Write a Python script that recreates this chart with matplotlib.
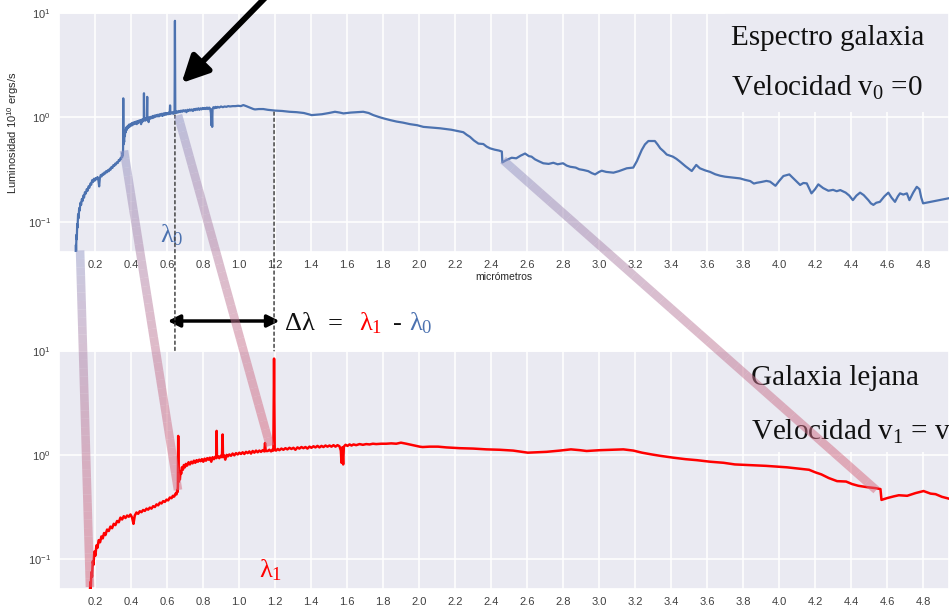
import numpy as np
import matplotlib
matplotlib.use("Agg")
import matplotlib.pyplot as plt
import seaborn as sns
from matplotlib.collections import LineCollection
from matplotlib.patches import Rectangle, ConnectionPatch
from matplotlib.colors import to_rgba

sns.set_theme(style="darkgrid")
plt.rcParams["font.family"] = ["Liberation Sans", "DejaVu Sans"]
plt.rcParams["mathtext.fontset"] = "custom"
plt.rcParams["mathtext.rm"] = "Liberation Serif"
plt.rcParams["mathtext.it"] = "Liberation Serif:italic"
plt.rcParams["mathtext.bf"] = "Liberation Serif:bold"

# ---------------- data (rest-frame spectrum, micrometres / 1e10 erg/s) -------------
wl_uv_opt = [0.092, 0.094, 0.095, 0.097, 0.099, 0.101, 0.103, 0.106, 0.109, 0.112,
             0.115, 0.119, 0.123, 0.127, 0.131, 0.135, 0.139, 0.144, 0.149, 0.154,
             0.159, 0.164, 0.169, 0.174, 0.179, 0.184, 0.189, 0.194, 0.199, 0.204,
             0.209, 0.214, 0.219, 0.223, 0.227, 0.232, 0.237, 0.242, 0.247, 0.252,
             0.257, 0.262, 0.267, 0.272, 0.277, 0.282, 0.287, 0.292, 0.297, 0.302,
             0.307, 0.312, 0.317, 0.322, 0.327, 0.332, 0.337, 0.341, 0.345, 0.349,
             0.352, 0.354, 0.355, 0.356, 0.357, 0.358, 0.360, 0.362, 0.364, 0.366,
             0.368, 0.371, 0.374, 0.377, 0.380, 0.384, 0.388, 0.392, 0.396, 0.400,
             0.404, 0.408, 0.412, 0.416, 0.420, 0.424, 0.428, 0.432, 0.436, 0.440,
             0.444, 0.448, 0.452, 0.456, 0.460, 0.464, 0.468, 0.471, 0.472, 0.473,
             0.476, 0.480, 0.484, 0.488, 0.490, 0.491, 0.494, 0.498, 0.502, 0.506,
             0.510, 0.515, 0.520, 0.525, 0.530, 0.535, 0.540, 0.545, 0.550, 0.555,
             0.560, 0.565, 0.570, 0.575, 0.580, 0.585, 0.590, 0.595, 0.600, 0.605,
             0.610, 0.615, 0.617, 0.619, 0.625, 0.630, 0.635, 0.640, 0.642, 0.644,
             0.646, 0.650, 0.655, 0.660, 0.666, 0.672, 0.678, 0.684, 0.690, 0.696,
             0.702, 0.708, 0.714, 0.720, 0.726, 0.732, 0.738, 0.744, 0.750, 0.756,
             0.762, 0.768, 0.774, 0.780, 0.786, 0.792, 0.798, 0.804, 0.810, 0.816,
             0.822, 0.828, 0.834, 0.840, 0.844, 0.846, 0.848, 0.851, 0.853, 0.858,
             0.864, 0.870, 0.876, 0.882, 0.890, 0.900, 0.910, 0.920, 0.930, 0.940,
             0.950, 0.965, 0.980, 0.995, 1.010]
lum_uv_opt = [0.045, 0.060, 0.052, 0.075, 0.068, 0.095, 0.088, 0.118, 0.108, 0.135,
              0.128, 0.152, 0.145, 0.165, 0.158, 0.178, 0.170, 0.192, 0.186, 0.205,
              0.198, 0.218, 0.212, 0.232, 0.226, 0.250, 0.240, 0.258, 0.248, 0.262,
              0.255, 0.268, 0.250, 0.218, 0.262, 0.280, 0.272, 0.288, 0.282, 0.296,
              0.290, 0.305, 0.298, 0.312, 0.305, 0.322, 0.316, 0.335, 0.328, 0.348,
              0.342, 0.360, 0.354, 0.372, 0.366, 0.390, 0.384, 0.405, 0.398, 0.425,
              0.418, 0.460, 0.440, 0.500, 1.520, 0.550, 0.620, 0.580, 0.700, 0.660,
              0.760, 0.720, 0.800, 0.760, 0.820, 0.790, 0.850, 0.810, 0.860, 0.830,
              0.880, 0.840, 0.890, 0.860, 0.900, 0.870, 0.910, 0.860, 0.920, 0.880,
              0.930, 0.900, 0.940, 0.860, 0.950, 0.910, 0.960, 0.930, 1.700, 0.950,
              0.970, 0.930, 0.980, 0.950, 1.570, 0.970, 0.990, 0.900, 1.000, 0.970,
              1.010, 0.980, 1.030, 0.990, 1.040, 1.010, 1.050, 1.020, 1.060, 1.020,
              1.070, 1.040, 1.080, 1.030, 1.090, 1.050, 1.100, 1.060, 1.100, 1.070,
              1.110, 1.080, 1.300, 1.090, 1.090, 1.120, 1.080, 1.130, 1.100, 8.400,
              1.120, 1.100, 1.140, 1.110, 1.150, 1.120, 1.160, 1.130, 1.170, 1.140,
              1.170, 1.120, 1.180, 1.150, 1.190, 1.160, 1.190, 1.150, 1.200, 1.170,
              1.210, 1.180, 1.220, 1.180, 1.220, 1.190, 1.230, 1.200, 1.230, 1.200,
              1.240, 1.200, 1.240, 1.210, 1.100, 0.840, 1.180, 0.810, 1.200, 1.250,
              1.220, 1.260, 1.230, 1.260, 1.240, 1.270, 1.250, 1.270, 1.260, 1.280,
              1.270, 1.280, 1.280, 1.290, 1.280]

wl_nir = [1.024, 1.040, 1.060, 1.080, 1.089, 1.110, 1.135, 1.160, 1.200, 1.240,
          1.280, 1.320, 1.360, 1.404, 1.430, 1.460, 1.500, 1.533, 1.560, 1.580,
          1.620, 1.660, 1.690, 1.720, 1.746, 1.775, 1.800, 1.840, 1.876, 1.910,
          1.950, 1.990, 2.024, 2.060, 2.117, 2.180, 2.246, 2.265, 2.283, 2.305,
          2.330, 2.357, 2.375, 2.394, 2.420, 2.445, 2.460]
lum_nir = [1.310, 1.280, 1.240, 1.200, 1.190, 1.200, 1.200, 1.180, 1.160, 1.150,
           1.130, 1.120, 1.100, 1.050, 1.060, 1.070, 1.100, 1.130, 1.110, 1.090,
           1.110, 1.120, 1.130, 1.100, 1.050, 1.010, 0.980, 0.940, 0.910, 0.890,
           0.860, 0.840, 0.810, 0.800, 0.785, 0.760, 0.720, 0.680, 0.650, 0.600,
           0.560, 0.555, 0.525, 0.505, 0.490, 0.480, 0.470]

wl_mir = [2.463, 2.480, 2.500, 2.515, 2.540, 2.565, 2.589, 2.610, 2.625, 2.644,
          2.665, 2.690, 2.720, 2.746, 2.770, 2.800, 2.820, 2.840, 2.870, 2.890,
          2.913, 2.940, 2.960, 2.978, 3.000, 3.015, 3.040, 3.080, 3.110, 3.154,
          3.190, 3.210, 3.237, 3.255, 3.274, 3.310, 3.325, 3.340, 3.360, 3.376,
          3.410, 3.430, 3.450, 3.480, 3.500, 3.515, 3.540, 3.560, 3.590, 3.617,
          3.645, 3.672, 3.700, 3.740, 3.783, 3.810, 3.840, 3.860, 3.876, 3.900,
          3.930, 3.950, 3.980, 4.000, 4.024, 4.057, 4.080, 4.100, 4.117, 4.135,
          4.154, 4.180, 4.200, 4.218, 4.245, 4.274, 4.300, 4.320, 4.340, 4.370,
          4.390, 4.410, 4.430, 4.450, 4.470, 4.496, 4.510, 4.524, 4.540, 4.560,
          4.585, 4.607, 4.625, 4.644, 4.660, 4.672, 4.690, 4.710, 4.724, 4.745,
          4.765, 4.780, 4.790, 4.800, 4.944, 5.000]
lum_mir = [0.370, 0.385, 0.400, 0.410, 0.405, 0.430, 0.450, 0.425, 0.420, 0.396,
           0.380, 0.363, 0.358, 0.367, 0.355, 0.363, 0.345, 0.336, 0.330, 0.318,
           0.313, 0.305, 0.292, 0.284, 0.300, 0.308, 0.300, 0.295, 0.305, 0.325,
           0.330, 0.380, 0.486, 0.550, 0.593, 0.593, 0.550, 0.505, 0.470, 0.440,
           0.420, 0.400, 0.376, 0.340, 0.320, 0.306, 0.350, 0.325, 0.310, 0.300,
           0.285, 0.276, 0.270, 0.265, 0.260, 0.252, 0.245, 0.232, 0.236, 0.240,
           0.246, 0.242, 0.221, 0.245, 0.274, 0.284, 0.260, 0.240, 0.225, 0.235,
           0.233, 0.187, 0.205, 0.228, 0.210, 0.198, 0.202, 0.196, 0.201, 0.190,
           0.178, 0.161, 0.178, 0.190, 0.180, 0.161, 0.150, 0.145, 0.152, 0.155,
           0.175, 0.190, 0.170, 0.155, 0.175, 0.187, 0.182, 0.187, 0.161, 0.190,
           0.216, 0.205, 0.170, 0.150, 0.168, 0.170]

redshift_factor = 1.855          # lambda_1 / lambda_0
halpha_rest = 0.644              # marked line (lambda_0)

xticks = [0.2, 0.4, 0.6, 0.8, 1.0, 1.2, 1.4, 1.6, 1.8, 2.0, 2.2, 2.4,
          2.6, 2.8, 3.0, 3.2, 3.4, 3.6, 3.8, 4.0, 4.2, 4.4, 4.6, 4.8]

# features linked between the two spectra: (rest wl, lum top) -> (obs wl, lum bottom)
link_top = [(0.117, 0.053), (0.361, 0.48), (0.661, 1.05), (2.467, 0.39)]
link_bot = [(0.172, 0.054), (0.661, 0.46), (1.172, 1.22), (4.540, 0.46)]

wl_rest = np.array(wl_uv_opt + wl_nir + wl_mir)
lum = np.array(lum_uv_opt + lum_nir + lum_mir)
wl_obs = wl_rest * redshift_factor

# ---------------- figure ----------------
W, H = 949, 608
fig = plt.figure(figsize=(W / 100, H / 100), dpi=100)
ax1 = fig.add_axes([59 / W, 1 - 252 / H, 890 / W, (252 - 12.9) / H])
ax2 = fig.add_axes([59 / W, 1 - 589.3 / H, 890 / W, (589.3 - 350.7) / H])

BLUE = "#4C72B0"
for ax in (ax1, ax2):
    ax.set_yscale("log")
    ax.set_ylim(0.0513, 10)
    ax.set_xlim(0, 4.944)
    ax.set_xticks(xticks)
    ax.set_xticklabels([f"{t:.1f}" for t in xticks])
    ax.yaxis.set_minor_formatter(matplotlib.ticker.NullFormatter())
    ax.tick_params(axis="x", which="both", labelsize=8, colors=".25", length=0, pad=5.5)
    ax.tick_params(axis="y", which="both", labelsize=8, colors=".25", length=0, pad=6)
    ax.grid(True, which="major", color="white", lw=1.1)
    ax.grid(False, which="minor")

ax1.plot(wl_rest, lum, color=BLUE, lw=1.6, zorder=3)
ax2.plot(wl_obs, lum, color="red", lw=1.8, zorder=3)

ax1.set_xlabel("micrómetros", fontsize=7.5, color=".15", labelpad=1.5)
ax1.set_ylabel(r"Luminosidad $\mathdefault{10^{10}}$ ergs/s", fontsize=8, color=".15", labelpad=5)

# background boxes behind the big labels (hide grid)
ax1.add_patch(Rectangle((0.748, 0.586), 0.26, 0.42, transform=ax1.transAxes,
                        fc="#EAEAF2", ec="none", zorder=1))
ax2.add_patch(Rectangle((0.771, 0.575), 0.24, 0.43, transform=ax2.transAxes,
                        fc="#EAEAF2", ec="none", zorder=1))

serif = ["Liberation Serif", "DejaVu Serif"]
fig.text(731 / W, 1 - 38 / H, "Espectro galaxia", fontsize=21, family=serif,
         va="center", ha="left", color="#111111")
fig.text(731 / W, 1 - 88 / H, r"Velocidad $\mathrm{v}_0$ =0", fontsize=21, family=serif,
         va="center", ha="left", color="#111111")
fig.text(751 / W, 1 - 378 / H, "Galaxia lejana", fontsize=21, family=serif,
         va="center", ha="left", color="#111111")
fig.text(751 / W, 1 - 432 / H, r"Velocidad $\mathrm{v}_1$ = v", fontsize=21, family=serif,
         va="center", ha="left", color="#111111")

# lambda labels
fig.text(172 / W, 1 - 235 / H, r"$\mathrm{λ}_0$", fontsize=19, color=BLUE,
         ha="center", va="center")
fig.text(271 / W, 1 - 570 / H, r"$\mathrm{λ}_1$", fontsize=19, color="red",
         ha="center", va="center")

# delta lambda expression
yb = 1 - 330 / H
fig.text(285 / W, yb, "Δλ", fontsize=19, family=serif, va="baseline", color="#111111")
fig.text(328 / W, yb, "=", fontsize=19, family=serif, va="baseline", color="#111111")
fig.text(359 / W, yb, r"$\mathrm{λ}_1$", fontsize=19, va="baseline", color="red")
fig.text(393 / W, yb, "-", fontsize=19, family=serif, va="baseline", color="#111111")
fig.text(409 / W, yb, r"$\mathrm{λ}_0$", fontsize=19, va="baseline", color=BLUE)

# dotted guide lines
for xa, xb, ya in [(halpha_rest, halpha_rest, 1.05),
                   (halpha_rest * redshift_factor, halpha_rest * redshift_factor, 1.12)]:
    cp = ConnectionPatch(xyA=(xa, ya), coordsA=ax1.transData,
                         xyB=(xb, 10), coordsB=ax2.transData,
                         linestyle=(0, (2, 2)), color="#444444", lw=1.1, zorder=4)
    fig.add_artist(cp)

# double arrow (delta lambda)
ax2.annotate("", xy=(halpha_rest - 0.04, 1 - 321 / H),
             xycoords=("data", "figure fraction"),
             xytext=(halpha_rest * redshift_factor + 0.03, 1 - 321 / H),
             textcoords=("data", "figure fraction"),
             arrowprops=dict(arrowstyle="<|-|>", color="black", lw=2.5,
                             mutation_scale=18, shrinkA=0, shrinkB=0),
             annotation_clip=False)

# big black arrow pointing at the line
ax1.annotate("", xy=(halpha_rest + 0.037, 2.13), xytext=(1.144, 13.9),
             arrowprops=dict(arrowstyle="-|>", color="black", lw=4.2,
                             mutation_scale=40, shrinkA=0, shrinkB=0),
             annotation_clip=False)

# translucent gradient bands linking features
c_top = np.array(to_rgba("#8F98C8"))
c_bot = np.array(to_rgba("#D8667A"))
inv = fig.transFigure.inverted()
nseg = 40
for pt, pb in zip(link_top, link_bot):
    a = inv.transform(ax1.transData.transform(pt))
    b = inv.transform(ax2.transData.transform(pb))
    ts = np.linspace(0, 1, nseg + 1)
    pts = a[None, :] + ts[:, None] * (b - a)[None, :]
    segs = [pts[i:i + 2] for i in range(nseg)]
    tm = ((ts[:-1] + ts[1:]) / 2) ** 0.75
    cols = c_top[None, :] * (1 - tm[:, None]) + c_bot[None, :] * tm[:, None]
    cols[:, 3] = 0.5
    lc = LineCollection(segs, colors=cols, linewidths=6.2, transform=fig.transFigure,
                        capstyle="butt", zorder=5)
    fig.add_artist(lc)

fig.savefig("out.png", dpi=100)
